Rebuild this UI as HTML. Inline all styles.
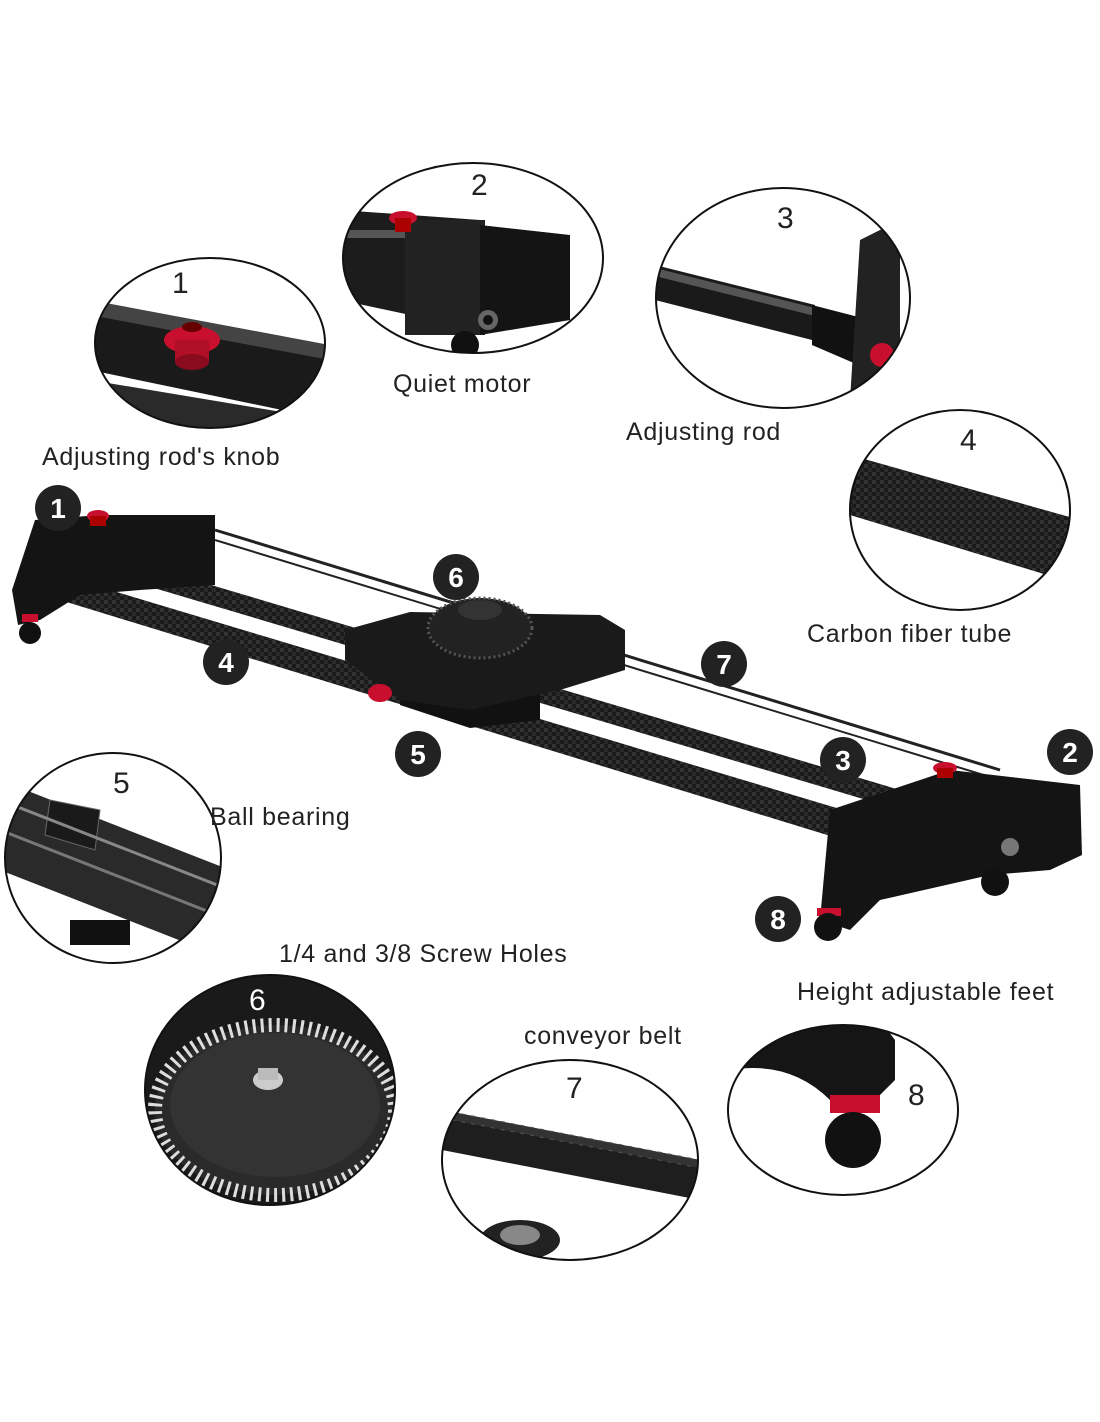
<!DOCTYPE html>
<html><head><meta charset="utf-8"><style>
html,body{margin:0;padding:0;background:#fff;}
svg{display:block}
text{font-family:"Liberation Sans",sans-serif;}
</style></head><body>
<svg width="1100" height="1422" viewBox="0 0 1100 1422" xmlns="http://www.w3.org/2000/svg">
<defs>
<clipPath id="c1"><ellipse cx="210" cy="343" rx="115" ry="85"/></clipPath>
<clipPath id="c2"><ellipse cx="473" cy="258" rx="130" ry="95"/></clipPath>
<clipPath id="c3"><ellipse cx="783" cy="298" rx="127" ry="110"/></clipPath>
<clipPath id="c4"><ellipse cx="960" cy="510" rx="110" ry="100"/></clipPath>
<clipPath id="c5"><ellipse cx="113" cy="858" rx="108" ry="105"/></clipPath>
<clipPath id="c6"><ellipse cx="270" cy="1090" rx="125" ry="115"/></clipPath>
<clipPath id="c7"><ellipse cx="570" cy="1160" rx="128" ry="100"/></clipPath>
<clipPath id="c8"><ellipse cx="843" cy="1110" rx="115" ry="85"/></clipPath>
<pattern id="cf" width="8" height="8" patternUnits="userSpaceOnUse"><rect width="8" height="8" fill="#1a1a1a"/><rect width="4" height="4" fill="#333"/><rect x="4" y="4" width="4" height="4" fill="#2a2a2a"/></pattern>
</defs>

<g clip-path="url(#c1)">
<polygon points="90,300 330,350 330,420 90,370" fill="#1a1a1a"/>
<polygon points="90,300 330,345 330,360 90,315" fill="#444"/>
<polygon points="90,380 330,420 330,440 90,440" fill="#2a2a2a"/>
<ellipse cx="192" cy="340" rx="28" ry="14" fill="#c8102e"/>
<rect x="175" y="340" width="34" height="22" fill="#b00f28"/>
<ellipse cx="192" cy="362" rx="17" ry="8" fill="#8a0a1e"/>
<ellipse cx="192" cy="327" rx="10" ry="5" fill="#600"/>
</g>
<ellipse cx="210" cy="343" rx="115" ry="85" fill="none" stroke="#111" stroke-width="2"/>
<text x="172" y="293" font-size="30" fill="#222">1</text>

<g clip-path="url(#c2)">
<polygon points="340,210 480,220 480,330 340,300" fill="#1c1c1c"/>
<rect x="405" y="220" width="80" height="115" fill="#222"/>
<polygon points="480,225 570,235 570,320 480,335" fill="#141414"/>
<rect x="345" y="230" width="60" height="8" fill="#555"/>
<ellipse cx="403" cy="218" rx="14" ry="7" fill="#c8102e"/>
<rect x="395" y="218" width="16" height="14" fill="#a00"/>
<circle cx="488" cy="320" r="10" fill="#666"/><circle cx="488" cy="320" r="5" fill="#111"/>
<circle cx="465" cy="345" r="14" fill="#111"/>
</g>
<ellipse cx="473" cy="258" rx="130" ry="95" fill="none" stroke="#111" stroke-width="2"/>
<text x="471" y="195" font-size="30" fill="#222">2</text>

<g clip-path="url(#c3)">
<polygon points="655,265 815,305 812,340 655,300" fill="#1a1a1a"/>
<polygon points="655,268 815,308 815,316 655,276" fill="#555"/>
<polygon points="812,305 870,320 870,370 812,345" fill="#111"/>
<polygon points="860,240 900,220 900,400 850,400" fill="#222"/>
<circle cx="882" cy="355" r="12" fill="#c8102e"/>
</g>
<ellipse cx="783" cy="298" rx="127" ry="110" fill="none" stroke="#111" stroke-width="2"/>
<text x="777" y="228" font-size="30" fill="#222">3</text>

<g clip-path="url(#c4)">
<polygon points="850,455 1080,520 1080,585 850,515" fill="url(#cf)"/>
</g>
<ellipse cx="960" cy="510" rx="110" ry="100" fill="none" stroke="#111" stroke-width="2"/>
<text x="960" y="450" font-size="30" fill="#222">4</text>

<g clip-path="url(#c5)">
<polygon points="0,780 230,870 230,960 0,870" fill="#2a2a2a"/>
<polygon points="50,800 100,810 95,850 45,835" fill="#1a1a1a" stroke="#666"/>
<line x1="0" y1="800" x2="230" y2="890" stroke="#888" stroke-width="3"/>
<line x1="0" y1="830" x2="230" y2="920" stroke="#777" stroke-width="3"/>
<rect x="70" y="920" width="60" height="25" fill="#111"/>
</g>
<ellipse cx="113" cy="858" rx="108" ry="105" fill="none" stroke="#111" stroke-width="2"/>
<text x="113" y="793" font-size="30" fill="#222">5</text>

<g clip-path="url(#c6)">
<rect x="140" y="970" width="260" height="240" fill="#1a1a1a"/>
<ellipse cx="275" cy="1110" rx="120" ry="85" fill="#2a2a2a" stroke="#ddd" stroke-width="14" stroke-dasharray="3 5"/>
<ellipse cx="275" cy="1105" rx="105" ry="72" fill="#333"/>
<ellipse cx="268" cy="1080" rx="15" ry="10" fill="#ccc"/>
<rect x="258" y="1068" width="20" height="12" fill="#bbb"/>
</g>
<ellipse cx="270" cy="1090" rx="125" ry="115" fill="none" stroke="#111" stroke-width="2"/>
<text x="249" y="1010" font-size="30" fill="#fff">6</text>

<g clip-path="url(#c7)">
<polygon points="442,1110 700,1160 700,1200 442,1150" fill="#1e1e1e"/>
<polygon points="442,1110 700,1160 700,1168 442,1118" fill="#333" stroke="#555" stroke-dasharray="4 6"/>
<ellipse cx="520" cy="1240" rx="40" ry="20" fill="#222"/>
<ellipse cx="520" cy="1235" rx="20" ry="10" fill="#888"/>
</g>
<ellipse cx="570" cy="1160" rx="128" ry="100" fill="none" stroke="#111" stroke-width="2"/>
<text x="566" y="1098" font-size="30" fill="#222">7</text>

<g clip-path="url(#c8)">
<path d="M730,1030 L880,1020 L895,1040 L895,1080 L880,1095 L830,1100 Q790,1060 730,1070 Z" fill="#151515"/>
<rect x="830" y="1095" width="50" height="18" fill="#c8102e"/>
<circle cx="853" cy="1140" r="28" fill="#111"/>
</g>
<ellipse cx="843" cy="1110" rx="115" ry="85" fill="none" stroke="#111" stroke-width="2"/>
<text x="908" y="1105" font-size="30" fill="#222">8</text>

<polygon points="60,540 900,790 900,810 60,560" fill="url(#cf)"/>
<polygon points="60,575 860,815 850,842 60,600" fill="url(#cf)"/>
<line x1="215" y1="530" x2="1000" y2="770" stroke="#222" stroke-width="3"/>
<line x1="215" y1="540" x2="1000" y2="780" stroke="#222" stroke-width="2"/>
<path d="M35,520 L100,515 L215,515 L215,585 L140,590 L80,595 L40,620 L18,625 L12,590 Z" fill="#141414"/>
<ellipse cx="98" cy="516" rx="11" ry="6" fill="#c8102e"/><rect x="90" y="516" width="16" height="10" fill="#a00"/>
<circle cx="30" cy="633" r="11" fill="#111"/><rect x="22" y="614" width="16" height="8" fill="#c8102e"/>
<polygon points="400,680 540,680 540,720 470,728 400,705" fill="#111"/>
<polygon points="345,630 410,612 600,615 625,630 625,670 560,690 470,710 400,700 345,660" fill="#1a1a1a"/>
<ellipse cx="480" cy="628" rx="52" ry="30" fill="#222" stroke="#555" stroke-width="3" stroke-dasharray="2 3"/>
<ellipse cx="480" cy="610" rx="22" ry="10" fill="#333"/>
<ellipse cx="380" cy="693" rx="12" ry="9" fill="#c8102e"/>
<path d="M830,810 L950,770 L1080,785 L1082,855 L1050,870 L990,875 L880,900 L850,930 L820,920 Z" fill="#141414"/>
<ellipse cx="945" cy="768" rx="12" ry="6" fill="#c8102e"/><rect x="937" y="768" width="16" height="10" fill="#a00"/>
<circle cx="1010" cy="847" r="9" fill="#777"/>
<circle cx="995" cy="882" r="14" fill="#111"/>
<rect x="817" y="908" width="24" height="8" fill="#c8102e"/><circle cx="828" cy="927" r="14" fill="#111"/>

<g font-size="28" font-weight="bold" fill="#fff" text-anchor="middle">
<circle cx="58" cy="508" r="23" fill="#222"/><text x="58" y="518">1</text>
<circle cx="456" cy="577" r="23" fill="#222"/><text x="456" y="587">6</text>
<circle cx="226" cy="662" r="23" fill="#222"/><text x="226" y="672">4</text>
<circle cx="724" cy="664" r="23" fill="#222"/><text x="724" y="674">7</text>
<circle cx="418" cy="754" r="23" fill="#222"/><text x="418" y="764">5</text>
<circle cx="843" cy="760" r="23" fill="#222"/><text x="843" y="770">3</text>
<circle cx="1070" cy="752" r="23" fill="#222"/><text x="1070" y="762">2</text>
<circle cx="778" cy="919" r="23" fill="#222"/><text x="778" y="929">8</text>
</g>

<g font-size="25" fill="#222" letter-spacing="0.7">
<text x="42" y="465">Adjusting rod's knob</text>
<text x="393" y="392">Quiet motor</text>
<text x="626" y="440">Adjusting rod</text>
<text x="807" y="642">Carbon fiber tube</text>
<text x="210" y="825">Ball bearing</text>
<text x="279" y="962">1/4 and 3/8 Screw Holes</text>
<text x="524" y="1044">conveyor belt</text>
<text x="797" y="1000">Height adjustable feet</text>
</g>
</svg>
</body></html>
